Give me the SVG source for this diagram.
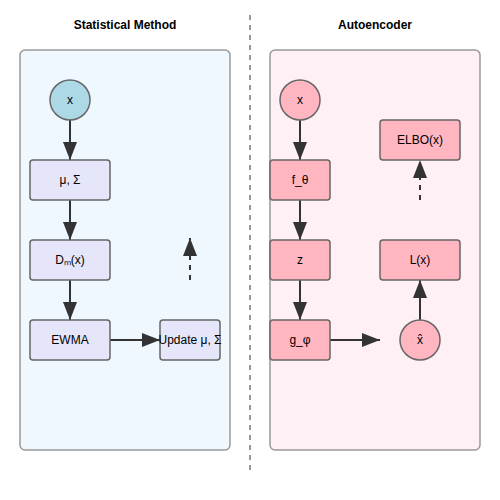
<svg xmlns="http://www.w3.org/2000/svg" width="500" height="500" viewBox="0 0 500 500">
<defs>
<marker id="ah" markerUnits="userSpaceOnUse" markerWidth="18" markerHeight="14" refX="18" refY="7" orient="auto">
<path d="M0,0 L18,7 L0,14 Z" fill="#333"/>
</marker>
<style>
text{font-family:"Liberation Sans",Arial,sans-serif;font-size:12px;fill:#000;text-anchor:middle;dominant-baseline:central}
.title{font-weight:bold}
.panel{stroke:#999;stroke-width:1.5}
.sbox{fill:#e6e6fa;stroke:#666;stroke-width:1.5}
.scirc{fill:#add8e6;stroke:#666;stroke-width:1.5}
.abox{fill:#ffb6c1;stroke:#666;stroke-width:1.5}
.edge{stroke:#333;stroke-width:2;fill:none;marker-end:url(#ah)}
.dash{stroke-dasharray:5,5}
</style>
</defs>
<rect width="500" height="500" fill="#fff"/>
<text class="title" x="125" y="25">Statistical Method</text>
<text class="title" x="375" y="25">Autoencoder</text>
<line x1="250" y1="15" x2="250" y2="475" stroke="#777" stroke-width="1.5" stroke-dasharray="5,5"/>
<rect class="panel" x="20" y="50" width="210" height="400" rx="5" fill="#f0f8ff"/>
<rect class="panel" x="270" y="50" width="210" height="400" rx="5" fill="#fff0f5"/>
<g id="connectors">
<line class="edge" x1="70" y1="120" x2="70" y2="160"/>
<line class="edge" x1="70" y1="200" x2="70" y2="240"/>
<line class="edge" x1="70" y1="280" x2="70" y2="320"/>
<line class="edge" x1="110" y1="340" x2="160" y2="340"/>
<line class="edge dash" x1="190" y1="280" x2="190" y2="238"/>
<line class="edge" x1="300" y1="120" x2="300" y2="160"/>
<line class="edge" x1="300" y1="200" x2="300" y2="240"/>
<line class="edge" x1="300" y1="280" x2="300" y2="320"/>
<line class="edge" x1="330" y1="340" x2="380" y2="340"/>
<line class="edge" x1="420" y1="320" x2="420" y2="280"/>
<line class="edge dash" x1="420" y1="200" x2="420" y2="160"/>
</g>
<g id="s_x"><circle class="scirc" cx="70" cy="100" r="20"/><text x="70" y="100">x</text></g>
<g id="s_mu"><rect class="sbox" x="30" y="160" width="80" height="40" rx="3"/><text x="70" y="180">μ, Σ</text></g>
<g id="s_d"><rect class="sbox" x="30" y="240" width="80" height="40" rx="3"/><text x="70" y="260">Dₘ(x)</text></g>
<g id="s_ewma"><rect class="sbox" x="30" y="320" width="80" height="40" rx="3"/><text x="70" y="340">EWMA</text></g>
<g id="s_update"><rect class="sbox" x="160" y="320" width="60" height="40" rx="3"/><text x="190" y="340">Update μ, Σ</text></g>
<g id="a_x"><circle class="abox" cx="300" cy="100" r="20"/><text x="300" y="100">x</text></g>
<g id="a_f"><rect class="abox" x="270" y="160" width="60" height="40" rx="3"/><text x="300" y="180">f_θ</text></g>
<g id="a_z"><rect class="abox" x="270" y="240" width="60" height="40" rx="3"/><text x="300" y="260">z</text></g>
<g id="a_g"><rect class="abox" x="270" y="320" width="60" height="40" rx="3"/><text x="300" y="340">g_φ</text></g>
<g id="a_xhat"><circle class="abox" cx="420" cy="340" r="20"/><text x="420" y="340">x̂</text></g>
<g id="a_l"><rect class="abox" x="380" y="240" width="80" height="40" rx="3"/><text x="420" y="260">L(x)</text></g>
<g id="a_elbo"><rect class="abox" x="380" y="120" width="80" height="40" rx="3"/><text x="420" y="140">ELBO(x)</text></g>
</svg>
